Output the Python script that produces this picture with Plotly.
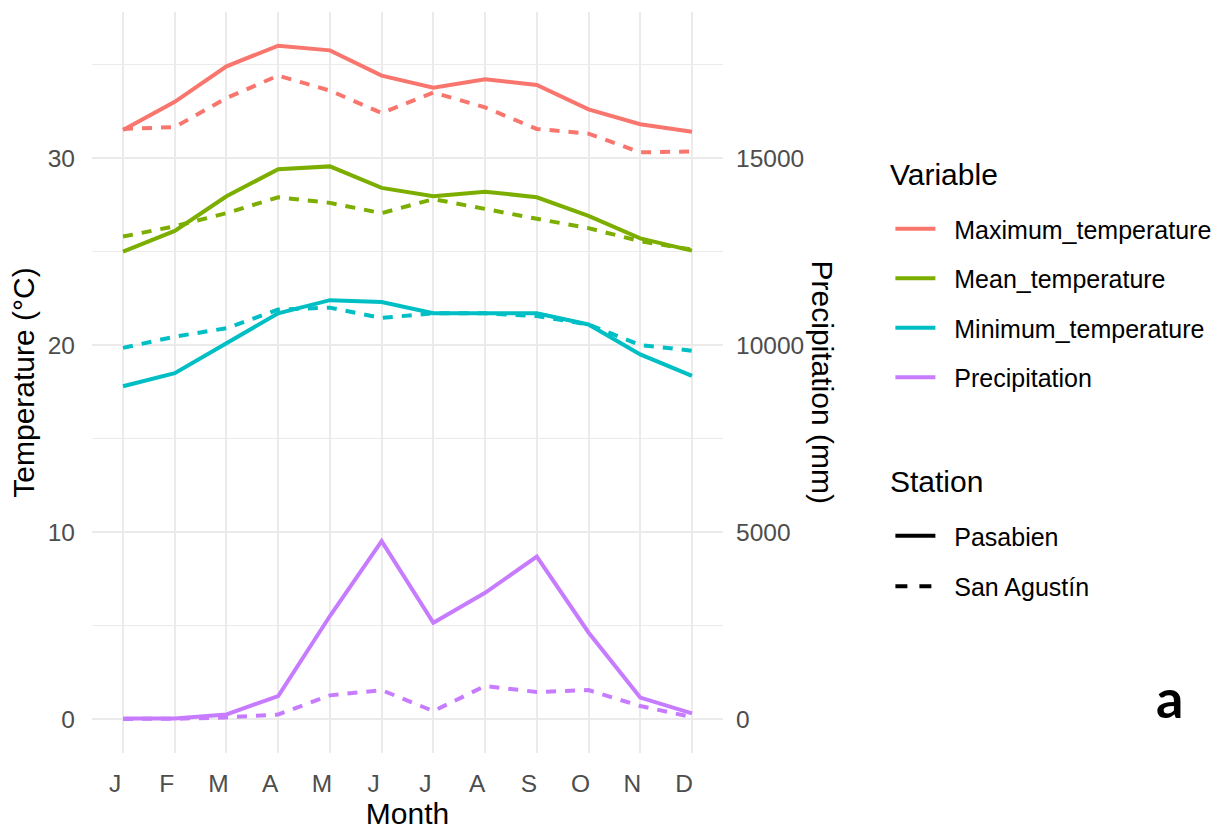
import plotly.graph_objects as go

months = ["Jan", "Feb", "Mar", "Apr", "May", "Jun", "Jul", "Aug", "Sep", "Oct", "Nov", "Dec"]
month_labels = ["J", "F", "M", "A", "M", "J", "J", "A", "S", "O", "N", "D"]

max_pasabien = [31.5, 33.0, 34.9, 36.0, 35.75, 34.4, 33.75, 34.2, 33.9, 32.6, 31.8, 31.4]
max_sanagustin = [31.55, 31.65, 33.2, 34.4, 33.6, 32.4, 33.5, 32.7, 31.55, 31.3, 30.3, 30.35]
mean_pasabien = [25.0, 26.1, 27.95, 29.4, 29.55, 28.4, 27.95, 28.2, 27.9, 26.9, 25.7, 25.05]
mean_sanagustin = [25.8, 26.35, 27.05, 27.9, 27.6, 27.05, 27.8, 27.25, 26.75, 26.25, 25.55, 25.1]
min_pasabien = [17.8, 18.5, 20.1, 21.7, 22.4, 22.3, 21.7, 21.7, 21.7, 21.1, 19.5, 18.35]
min_sanagustin = [19.85, 20.45, 20.9, 21.9, 22.0, 21.45, 21.7, 21.7, 21.55, 21.1, 20.0, 19.7]
precip_pasabien = [20, 25, 130, 620, 2760, 4760, 2580, 3380, 4350, 2320, 580, 160]
precip_sanagustin = [10, 15, 50, 130, 640, 780, 220, 890, 730, 780, 355, 60]

variables = ["Maximum_temperature", "Mean_temperature", "Minimum_temperature", "Precipitation"]
colors = ["#F8766D", "#7CAE00", "#00BFC4", "#C77CFF"]
stations = ["Pasabien", "San Agustín"]
dashes = ["solid", "10px,9px"]
temp_ticks = [0, 10, 20, 30]
temp_minor_ticks = [5, 15, 25, 35]
precip_ticks = [0, 5000, 10000, 15000]

series = {
    ("Maximum_temperature", "Pasabien"): max_pasabien,
    ("Maximum_temperature", "San Agustín"): max_sanagustin,
    ("Mean_temperature", "Pasabien"): mean_pasabien,
    ("Mean_temperature", "San Agustín"): mean_sanagustin,
    ("Minimum_temperature", "Pasabien"): min_pasabien,
    ("Minimum_temperature", "San Agustín"): min_sanagustin,
    ("Precipitation", "Pasabien"): precip_pasabien,
    ("Precipitation", "San Agustín"): precip_sanagustin,
}

FONT = "Liberation Sans, Arial, sans-serif"
LW = 4
W, H = 1221, 830
PL, PR, PT, PB = 91.6, 723.4, 12, 753  # plot area in page pixels
SCALE = 500  # mm per degree for secondary axis
YR = [-1.8, 37.8]


def px2x(px):
    return (px - PL) / (PR - PL)


def py2y(py):
    return (PB - py) / (PB - PT)


fig = go.Figure()

for var, col in zip(variables, colors):
    for st, dsh in zip(stations, dashes):
        fig.add_trace(go.Scatter(
            x=months, y=series[(var, st)], mode="lines",
            line=dict(color=col, width=LW, dash=dsh),
            yaxis="y2" if var == "Precipitation" else "y",
            showlegend=False, hoverinfo="x+y", name=f"{var} - {st}",
        ))

NB = "\u00a0\u00a0"
# legend entries
for i, (var, col) in enumerate(zip(variables, colors)):
    fig.add_trace(go.Scatter(
        x=[None], y=[None], mode="lines", name=NB + var,
        line=dict(color=col, width=LW), legend="legend",
        legendgroup=f"v{i}", showlegend=True,
    ))
for i, (st, dsh) in enumerate(zip(stations, ["solid", "dash"])):
    fig.add_trace(go.Scatter(
        x=[None], y=[None], mode="lines", name=NB + st,
        line=dict(color="black", width=LW, dash=dsh), legend="legend2",
        legendgroup=f"s{i}", showlegend=True,
    ))

tick_font = dict(family=FONT, size=24.5, color="#4D4D4D")
title_font = dict(family=FONT, size=30, color="black")
legend_font = dict(family=FONT, size=25, color="black")
grid = "#EBEBEB"

fig.update_layout(
    width=W, height=H,
    margin=dict(l=PL, r=W - PR, t=PT, b=H - PB, autoexpand=False),
    plot_bgcolor="white", paper_bgcolor="white",
    font=dict(family=FONT),
    xaxis=dict(
        type="category", categoryorder="array", categoryarray=months,
        tickmode="array", tickvals=months, ticktext=month_labels,
        range=[-0.6, 11.6], showgrid=True, gridcolor=grid, gridwidth=1.5,
        zeroline=False, showline=False, ticks="", tickfont=tick_font,
        ticklabelstandoff=13, ticklabelshift=-8,
        title=dict(text="Month", font=title_font, standoff=10),
    ),
    yaxis=dict(
        range=YR, tickmode="array", tickvals=temp_ticks,
        showgrid=True, gridcolor=grid, gridwidth=1.5,
        minor=dict(tickmode="array", tickvals=temp_minor_ticks, showgrid=True,
                   gridcolor=grid, gridwidth=1.3),
        zeroline=False, showline=False, ticks="", tickfont=tick_font,
        ticklabelstandoff=16,
        title=dict(text="Temperature (°C)", font=title_font, standoff=4),
    ),
    yaxis2=dict(
        overlaying="y", side="right", range=[YR[0] * SCALE, YR[1] * SCALE],
        tickmode="array", tickvals=precip_ticks, ticktext=[str(v) for v in precip_ticks],
        showgrid=False, zeroline=False, showline=False, ticks="",
        tickfont=tick_font, ticklabelstandoff=12,
    ),
    legend=dict(
        font=legend_font, itemwidth=40,
        x=px2x(891), y=py2y(206), xanchor="left", yanchor="top",
        traceorder="grouped", tracegroupgap=14, bgcolor="rgba(0,0,0,0)",
    ),
    legend2=dict(
        font=legend_font, itemwidth=40,
        x=px2x(891), y=py2y(513), xanchor="left", yanchor="top",
        traceorder="grouped", tracegroupgap=15, bgcolor="rgba(0,0,0,0)",
    ),
    annotations=[
        dict(text="Variable", font=title_font,
             x=px2x(889), y=py2y(175), xref="paper", yref="paper",
             showarrow=False, xanchor="left", yanchor="middle"),
        dict(text="Station", font=title_font,
             x=px2x(889), y=py2y(481), xref="paper", yref="paper",
             showarrow=False, xanchor="left", yanchor="middle"),
        dict(text="Precipitation (mm)", textangle=90, font=title_font,
             x=px2x(824), y=py2y(382), xref="paper", yref="paper",
             showarrow=False, xanchor="center", yanchor="middle"),
        dict(text="<b>a</b>", font=dict(family="Lato, Open Sans, sans-serif", size=54, color="black"),
             x=px2x(1170), y=py2y(697), xref="paper", yref="paper",
             showarrow=False, xanchor="center", yanchor="middle"),
    ],
)

fig.write_html(
    "out.html",
    config={"displayModeBar": False},
    post_script="document.body.style.margin='0px'; document.body.style.overflow='hidden';",
)
